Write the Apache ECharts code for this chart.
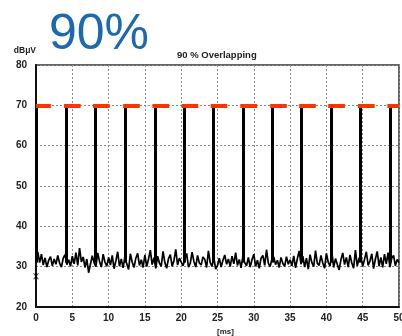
<!DOCTYPE html>
<html><head><meta charset="utf-8">
<script src="https://cdn.jsdelivr.net/npm/echarts@6/dist/echarts.min.js"></script>
<style>html,body{margin:0;padding:0;background:#fff}#c{width:402px;height:336px}</style>
</head><body><div id="c"></div>
<script>
const xTicks = [0,5,10,15,20,25,30,35,40,45,50];
const yTicks = [20,30,40,50,60,70,80];
const sampleStep = 0.25; // ms between noise samples
const noise = [
32.9,33.6,31.0,33.1,30.4,32.2,29.9,31.6,32.5,30.2,31.9,30.6,32.8,30.9,29.9,32.1,33.0,30.5,31.7,30.1,
32.6,30.7,33.5,30.3,34.6,31.2,32.4,29.8,31.9,28.5,30.6,32.7,31.0,30.0,33.4,31.3,29.9,33.1,31.1,30.1,
32.3,30.4,32.8,29.5,31.4,33.7,30.1,31.9,29.7,32.5,30.7,29.3,33.2,31.1,29.8,32.1,33.3,30.3,31.7,29.8,
32.9,30.0,31.9,34.1,30.5,32.2,29.6,32.6,30.9,30.1,33.8,31.0,29.6,32.0,33.0,30.1,31.5,34.3,30.4,32.1,
32.5,30.2,31.7,33.3,29.9,30.8,33.6,31.3,29.9,32.8,30.9,30.4,32.4,31.8,29.8,33.9,31.0,30.1,32.2,29.4,
30.3,32.1,29.9,31.6,32.9,30.6,31.9,30.0,32.6,30.7,33.5,30.3,31.8,29.7,32.7,31.0,30.2,32.3,29.9,31.7,
33.1,30.1,31.6,29.6,32.1,32.8,30.3,34.2,30.9,30.0,31.9,32.4,30.5,31.6,29.8,32.3,30.8,30.1,32.5,30.6,
31.7,30.2,32.7,29.7,32.0,33.9,30.6,32.6,29.9,32.1,29.4,33.0,31.0,30.0,34.0,30.8,30.3,32.8,30.9,29.6,
33.3,31.1,30.1,33.6,29.8,32.0,32.4,29.2,31.7,33.4,30.5,32.3,29.9,32.9,30.9,29.6,34.1,30.2,32.1,32.6,
30.0,31.8,33.7,30.3,31.4,33.2,29.5,31.9,33.8,30.1,32.3,29.8,33.1,30.7,33.5,29.9,32.1,32.8,30.2,31.8,31.0
];
const pulseTimes = [0.1,4.2,8.2,12.35,16.4,20.4,24.4,28.5,32.6,36.6,40.6,44.7,48.75];
const pulseBase = 31;
const pulseLevel = 70;
const dashBefore = 0.35, dashAfter = 1.95; // red limit marks around each pulse (ms)
const markerPoint = [0, 27.6];

const trace = noise.map((v,i)=>[i*sampleStep, v]);
const pulseLines = pulseTimes.map(p=>[{coord:[p,pulseBase]},{coord:[p,pulseLevel]}]);
const redLines = pulseTimes.map(p=>[{coord:[Math.max(0,p-dashBefore),pulseLevel]},{coord:[Math.min(50,p+dashAfter),pulseLevel]}]);

const lblFont = {fontFamily:'Liberation Sans', fontWeight:'bold', fontSize:10, color:'#222'};
const chart = echarts.init(document.getElementById('c'), null, {renderer:'canvas'});
chart.setOption({
  animation:false,
  title:[
    {text:'90%', left:44, top:5, textStyle:{fontFamily:'Liberation Sans', fontWeight:'normal', fontSize:50, color:'#1c69b0'}},
    {text:'90 % Overlapping', left:172, top:45, textStyle:{fontFamily:'Liberation Sans', fontWeight:'bold', fontSize:9.5, color:'#222'}}
  ],
  grid:{left:36, right:3, top:65, bottom:29, show:true, borderColor:'#333', borderWidth:1.5, containLabel:false, outerBoundsMode:'none'},
  xAxis:{type:'value', min:0, max:50, interval:5,
    name:'[ms]', nameLocation:'middle', nameGap:20,
    nameTextStyle:{fontFamily:'Liberation Sans', fontWeight:'bold', fontSize:8, color:'#222', padding:[0,0,0,16]},
    axisLine:{show:true, lineStyle:{color:'#111', width:2}},
    axisTick:{show:false},
    axisLabel:Object.assign({margin:6}, lblFont),
    splitLine:{show:true, lineStyle:{color:'#8a8a8a', width:1, type:[2,2]}}
  },
  yAxis:{type:'value', min:20, max:80, interval:10,
    name:'dBμV', nameLocation:'end', nameGap:10,
    nameTextStyle:{fontFamily:'Liberation Sans', fontWeight:'bold', fontSize:8.5, color:'#222', align:'right', padding:[0,0,0,0]},
    axisLine:{show:true, lineStyle:{color:'#111', width:2}},
    axisTick:{show:false},
    axisLabel:Object.assign({margin:9}, lblFont),
    splitLine:{show:true, lineStyle:{color:'#8a8a8a', width:1, type:[2,2]}}
  },
  series:[
    {type:'line', data:trace, showSymbol:false, symbol:'none',
     lineStyle:{color:'#000', width:1.7}, z:3,
     markLine:{silent:true, symbol:'none', animation:false, label:{show:false},
       lineStyle:{color:'#000', width:3, type:'solid'}, data:pulseLines}},
    {type:'line', data:[], z:5,
     markLine:{silent:true, symbol:'none', animation:false, label:{show:false},
       lineStyle:{color:'#ff3300', width:4, type:'solid'}, data:redLines}},
    {type:'scatter', data:[markerPoint], symbol:'path://M0,0 L2,0 L5,3 L8,0 L10,0 L6,4 L10,8 L8,8 L5,5 L2,8 L0,8 L4,4 Z',
     symbolSize:[6,6], itemStyle:{color:'#000'}, z:6}
  ]
});
</script></body></html>
